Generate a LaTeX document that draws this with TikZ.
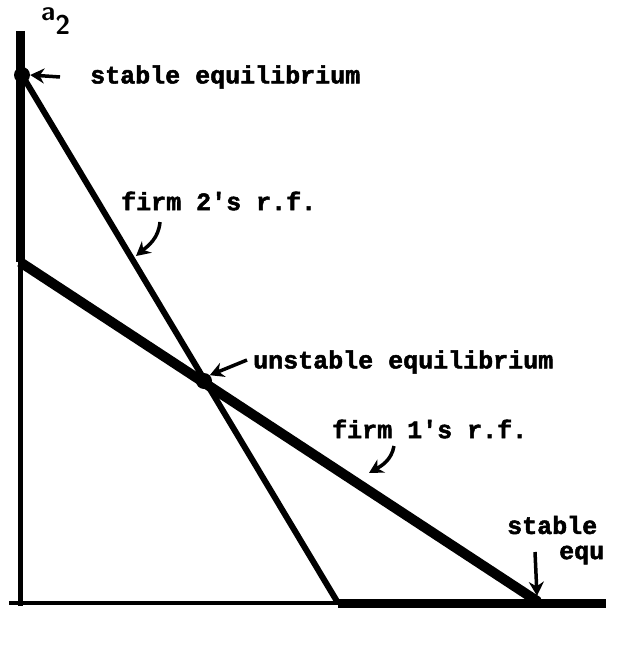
\documentclass[tikz,border=0pt]{standalone}
\usepackage{fontspec}
\setmonofont[BoldFeatures={FakeBold=2}]{Liberation Mono}
\usetikzlibrary{arrows.meta}
\begin{document}
\begin{tikzpicture}[x=1pt,y=-1pt,
  lbl/.style={font=\ttfamily\bfseries\fontsize{25}{27}\selectfont, inner sep=0pt, anchor=west},
  ptr/.style={line width=3.5pt, -{Stealth[length=14pt,width=15pt]}},
  dot/.style={circle, fill=black, inner sep=0pt, minimum size=#1}]
\useasboundingbox (0,0) rectangle (621,647);
% axes
\coordinate (top) at (20,31);
\coordinate (kink) at (20,262);
\coordinate (orig) at (20,606);
\coordinate (xl) at (9,603);
\coordinate (xm) at (338,603);
\coordinate (xr) at (606,603);
\coordinate (s1) at (22,75);
\coordinate (s2) at (537,601);
\coordinate (u) at (204,381);
\draw[line width=9pt] (top) -- (kink);
\draw[line width=5pt] (kink) -- (orig);
\draw[line width=4pt] (xl) -- (xm);
\draw[line width=9pt] (xm) -- (xr);
% reaction functions
\draw[line width=6pt] (s1) -- (xm);
\draw[line width=10pt] (kink) -- (s2);
% dots
\node[dot=16pt] (d1) at (s1) {};
\node[dot=16pt] (d2) at (u) {};
\node[dot=10pt] (d3) at (s2) {};
% labels
\node[inner sep=0pt, anchor=base west] at (41,21) (a2) {\fontsize{27}{29}\selectfont\sffamily\bfseries a\raisebox{-14pt}{2}};
\node[lbl] (st1) at (90,77) {stable equilibrium};
\node[lbl] (f2) at (121,201) {firm 2's r.f.};
\node[lbl] (un) at (253,362) {unstable equilibrium};
\node[lbl] (f1) at (332,429) {firm 1's r.f.};
\node[lbl] (st2) at (507,525) {stable};
\node[lbl] (eq2) at (559,555) {equ};
% pointers
\draw[ptr] (st1.west) ++(-30,0) coordinate (p1) (p1) -- (d1.east);
\draw[ptr] (160,222) to[out=-95,in=40] (136,256);
\draw[ptr] (247,360) -- (d2.north east);
\draw[ptr] (394,446) to[out=-100,in=30] (369,473);
\draw[ptr] (535,552) -- (d3.north);
\end{tikzpicture}
\end{document}
